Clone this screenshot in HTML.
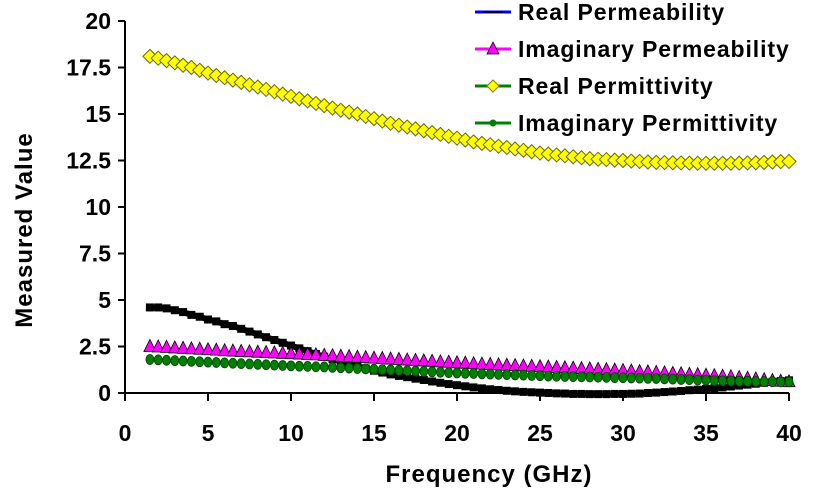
<!DOCTYPE html>
<html><head><meta charset="utf-8"><style>
body{margin:0;background:#fff;}
svg{display:block;font-family:"Liberation Sans",Arial,sans-serif;font-weight:bold;}
</style></head><body>
<svg id="chart" width="818" height="499" viewBox="0 0 818 499"></svg>
<script>
const freq=[1.5,2,2.5,3,3.5,4,4.5,5,5.5,6,
6.5,7,7.5,8,8.5,9,9.5,10,10.5,11,
11.5,12,12.5,13,13.5,14,14.5,15,15.5,16,
16.5,17,17.5,18,18.5,19,19.5,20,20.5,21,
21.5,22,22.5,23,23.5,24,24.5,25,25.5,26,
26.5,27,27.5,28,28.5,29,29.5,30,30.5,31,
31.5,32,32.5,33,33.5,34,34.5,35,35.5,36,
36.5,37,37.5,38,38.5,39,39.5,40];
const realPermeability=[4.6,4.6,4.55,4.45,4.35,4.2,4.1,3.95,3.85,3.7,
3.6,3.45,3.3,3.15,3.0,2.85,2.7,2.55,2.4,2.25,
2.1,1.95,1.82,1.7,1.57,1.45,1.32,1.2,1.1,1.0,
0.92,0.85,0.77,0.7,0.62,0.55,0.48,0.42,0.36,0.3,
0.25,0.2,0.16,0.12,0.09,0.06,0.04,0.02,0,-0.02,
-0.03,-0.05,-0.05,-0.06,-0.06,-0.06,-0.05,-0.05,-0.04,-0.03,
0,0.02,0.05,0.08,0.11,0.15,0.18,0.22,0.26,0.3,
0.35,0.4,0.45,0.5,0.55,0.6,0.64,0.68];
const imagPermeability=[2.45,2.42,2.4,2.37,2.35,2.32,2.3,2.27,2.25,2.22,
2.2,2.18,2.16,2.14,2.12,2.1,2.08,2.06,2.04,2.02,
2.0,1.97,1.95,1.92,1.9,1.87,1.85,1.82,1.8,1.77,
1.75,1.72,1.7,1.67,1.65,1.62,1.6,1.57,1.55,1.52,
1.5,1.48,1.46,1.44,1.42,1.4,1.38,1.36,1.34,1.32,
1.3,1.28,1.26,1.24,1.22,1.2,1.18,1.15,1.13,1.1,
1.08,1.05,1.03,1.0,0.98,0.95,0.93,0.9,0.88,0.85,
0.82,0.78,0.74,0.7,0.66,0.62,0.58,0.55];
const realPermittivity=[18.1,18.0,17.87,17.75,17.62,17.5,17.35,17.2,17.07,16.95,
16.82,16.7,16.57,16.45,16.32,16.2,16.07,15.95,15.82,15.7,
15.57,15.45,15.32,15.2,15.1,15.0,14.87,14.75,14.62,14.5,
14.4,14.3,14.2,14.1,14.0,13.9,13.8,13.7,13.6,13.5,
13.42,13.35,13.27,13.2,13.12,13.05,12.97,12.9,12.85,12.8,
12.75,12.7,12.65,12.6,12.57,12.55,12.52,12.5,12.47,12.45,
12.42,12.4,12.39,12.38,12.37,12.36,12.35,12.35,12.35,12.35,
12.35,12.36,12.37,12.38,12.4,12.42,12.44,12.45];
const imagPermittivity=[1.8,1.78,1.76,1.74,1.72,1.7,1.68,1.66,1.64,1.62,
1.6,1.58,1.56,1.54,1.52,1.5,1.48,1.46,1.44,1.43,
1.41,1.4,1.38,1.36,1.34,1.32,1.3,1.28,1.26,1.24,
1.22,1.2,1.18,1.16,1.14,1.12,1.1,1.08,1.06,1.05,
1.03,1.02,1.0,0.99,0.97,0.96,0.94,0.93,0.91,0.9,
0.89,0.88,0.87,0.86,0.85,0.84,0.83,0.82,0.81,0.8,
0.79,0.78,0.76,0.75,0.73,0.72,0.7,0.69,0.67,0.66,
0.65,0.64,0.63,0.62,0.61,0.61,0.6,0.6];
const xTicks=[0,5,10,15,20,25,30,35,40];
const yTicks=[0,2.5,5,7.5,10,12.5,15,17.5,20];
const yTickLabels=["0","2.5","5","7.5","10","12.5","15","17.5","20"];

const NS="http://www.w3.org/2000/svg";
const svg=document.getElementById('chart');
const X0=125,X1=789,Y0=393,Y1=21;
const xs=v=>X0+v/40*(X1-X0);
const ys=v=>Y0-v/20*(Y0-Y1);
function mk(tag,attrs,parent){const e=document.createElementNS(NS,tag);for(const k in attrs)e.setAttribute(k,attrs[k]);(parent||svg).appendChild(e);return e;}

let ax=mk('line',{x1:X0,y1:Y1,x2:X0,y2:Y0+1,stroke:'#000','stroke-width':2});


ax=mk('line',{x1:X0-1,y1:Y0,x2:X1,y2:Y0,stroke:'#000','stroke-width':2});



yTicks.forEach((t,i)=>{
  const y=ys(t);
  mk('line',{x1:X0-7,y1:y,x2:X0,y2:y,stroke:'#000','stroke-width':2});
  const tx=mk('text',{x:X0-14,y:y+8,'text-anchor':'end','font-size':23});
  tx.textContent=yTickLabels[i];
  
  
});
xTicks.forEach(t=>{
  const x=xs(t);
  mk('line',{x1:x,y1:Y0,x2:x,y2:Y0+8,stroke:'#000','stroke-width':2});
  const tx=mk('text',{x:x,y:441,'text-anchor':'middle','font-size':23});
  tx.textContent=String(t);
  
  
});
let t=mk('text',{x:489,y:482,'text-anchor':'middle','font-size':24,'letter-spacing':'1'});
t.textContent='Frequency (GHz)';


t=mk('text',{x:0,y:0,'text-anchor':'middle','font-size':24,'letter-spacing':'1',transform:'translate(32,230) rotate(-90)'});
t.textContent='Measured Value';



function pts(arr){return arr.map((v,i)=>xs(freq[i])+','+ys(v)).join(' ');}

let g=mk('g',{});


mk('polyline',{points:pts(realPermittivity),fill:'none',stroke:'#008000','stroke-width':2},g);
realPermittivity.forEach((v,i)=>{const x=xs(freq[i]),y=ys(v);
  const m=mk('polygon',{points:`${x},${y-7} ${x+7},${y} ${x},${y+7} ${x-7},${y}`,fill:'#ffff00',stroke:'#6b6b00','stroke-width':1},g);
  
  });

g=mk('g',{});


mk('polyline',{points:pts(realPermeability),fill:'none',stroke:'#000','stroke-width':6},g);
realPermeability.forEach((v,i)=>{const x=xs(freq[i]),y=ys(v);
  const m=mk('rect',{x:x-4,y:y-4,width:8,height:8,fill:'#000'},g);
  
  });

g=mk('g',{});


mk('polyline',{points:pts(imagPermeability),fill:'none',stroke:'#ff00ff','stroke-width':2},g);
imagPermeability.forEach((v,i)=>{const x=xs(freq[i]),y=ys(v);
  const m=mk('polygon',{points:`${x},${y-8} ${x+6},${y+4} ${x-6},${y+4}`,fill:'#ff00ff',stroke:'#000','stroke-width':0.8},g);
  
  });

g=mk('g',{});


mk('polyline',{points:pts(imagPermittivity),fill:'none',stroke:'#008000','stroke-width':2},g);
imagPermittivity.forEach((v,i)=>{const x=xs(freq[i]),y=ys(v);
  const m=mk('ellipse',{cx:x,cy:y,rx:4,ry:5,fill:'#008000',stroke:'#004000','stroke-width':0.8},g);
  
  });

const legend=[["Real Permeability","#0000ff","none"],["Imaginary Permeability","#ff00ff","tri"],["Real Permittivity","#008000","dia"],["Imaginary Permittivity","#008000","dot"]];
legend.forEach((L,i)=>{
  const y=12+i*37;
  const lg=mk('g',{});
  
  
  mk('line',{x1:475,y1:y,x2:511,y2:y,stroke:L[1],'stroke-width':3},lg);
  if(i===0) mk('line',{x1:483,y1:y,x2:503,y2:y,stroke:'#000','stroke-width':1.5},lg);
  if(L[2]==='tri') mk('polygon',{points:`493,${y-7} 499,${y+5} 487,${y+5}`,fill:'#ff00ff',stroke:'#000','stroke-width':0.8},lg);
  if(L[2]==='dia') mk('polygon',{points:`493,${y-6} 499,${y} 493,${y+6} 487,${y}`,fill:'#ffff00',stroke:'#808000'},lg);
  if(L[2]==='dot') mk('circle',{cx:493,cy:y,r:3.5,fill:'#008000'},lg);
  const tx=mk('text',{x:518,y:y+8,'font-size':23,'letter-spacing':'0.9'},lg);
  tx.textContent=L[0];
});
</script>
</body></html>
